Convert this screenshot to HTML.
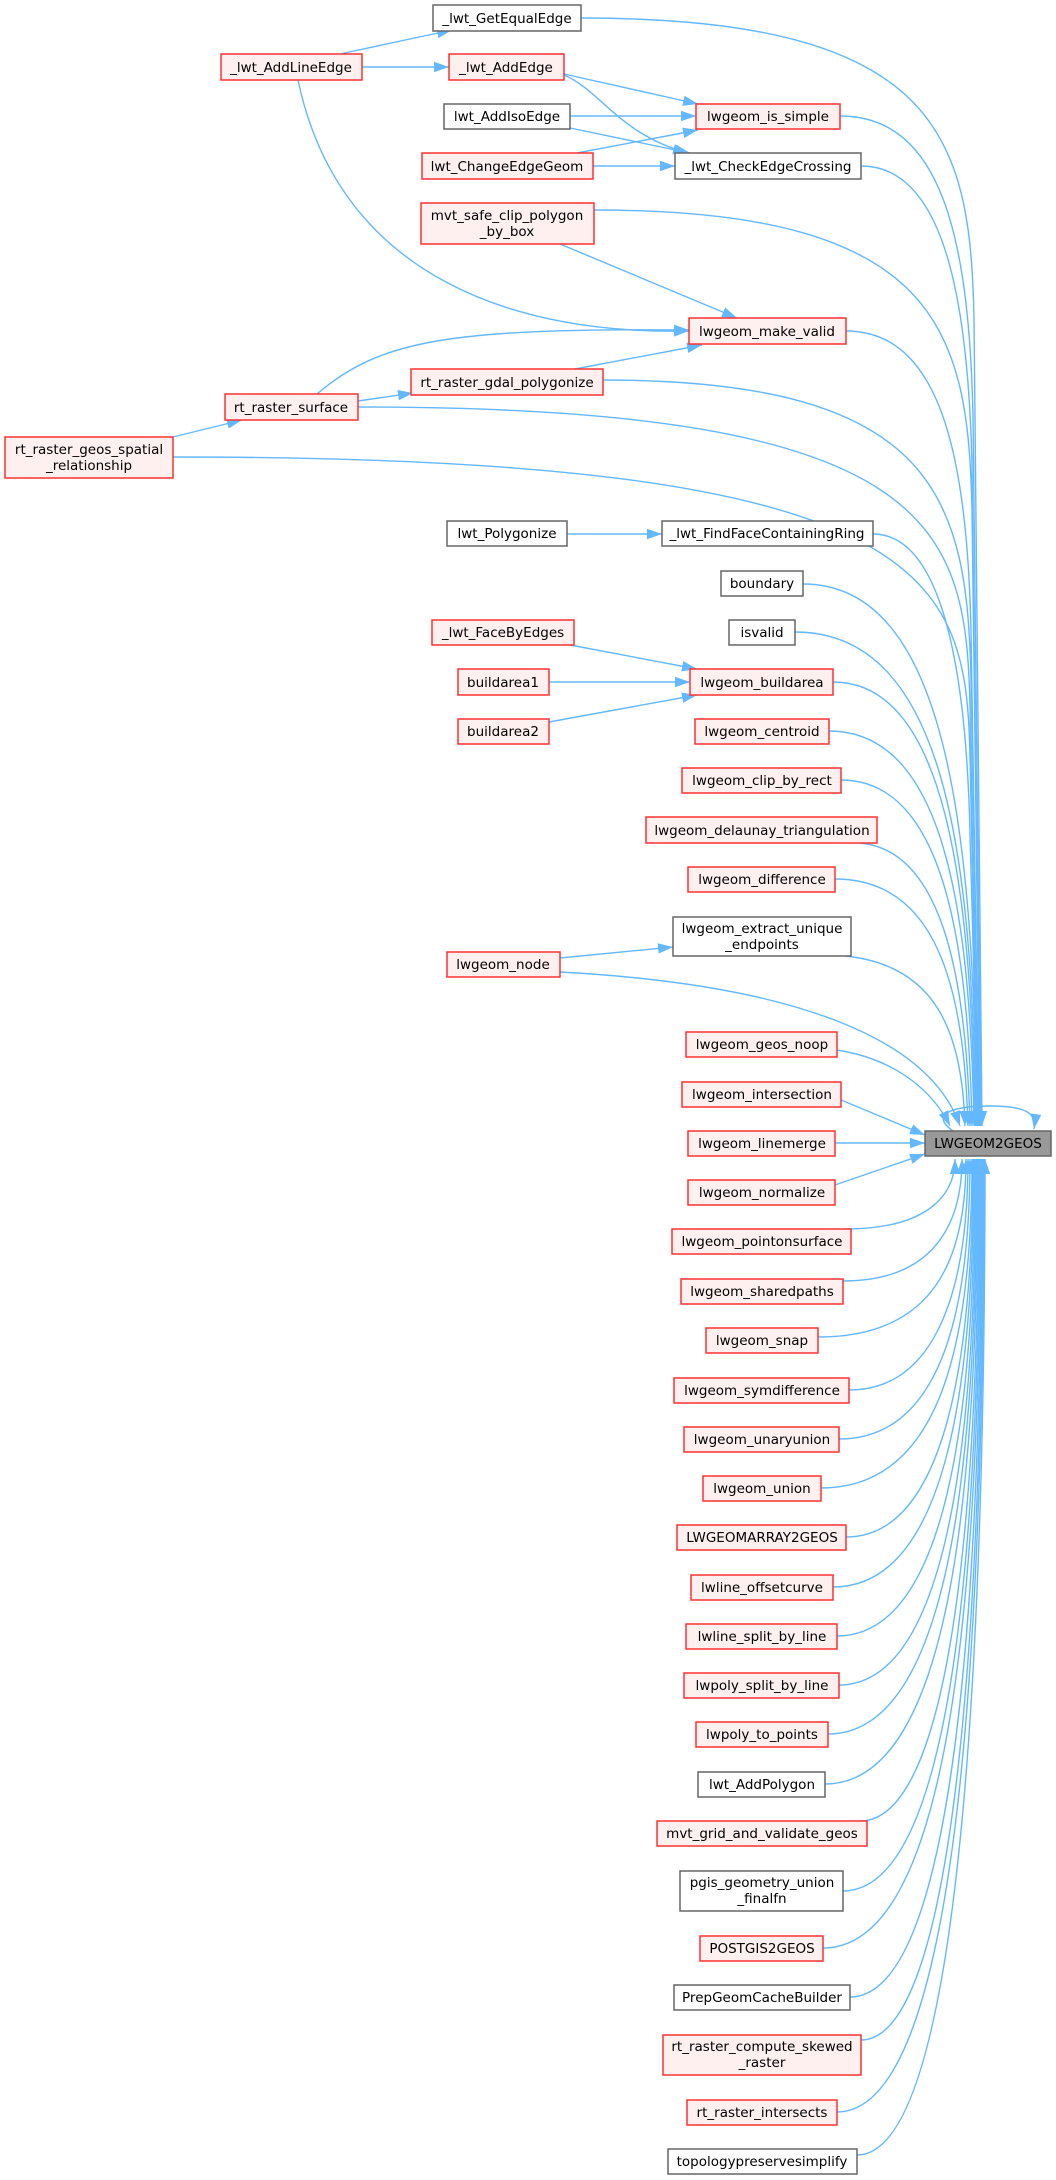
<!DOCTYPE html>
<html><head><meta charset="utf-8"><style>
html,body{margin:0;padding:0;background:#fff}
svg{display:block}
text{font-family:"DejaVu Sans","Liberation Sans",sans-serif;font-size:13.5px;fill:#000;text-anchor:middle}
.r{fill:#fff0f0;stroke:#ff3030;stroke-width:1.5}
.g{fill:#fff;stroke:#666;stroke-width:1.5}
.m{fill:#999;stroke:#666;stroke-width:1.5}
.e{fill:none;stroke:#63b8ff;stroke-width:1.4}
</style></head><body>
<svg width="1056" height="2180" viewBox="0 0 1056 2180" xmlns="http://www.w3.org/2000/svg">
<defs>
<marker id="a" markerUnits="userSpaceOnUse" markerWidth="15" markerHeight="11" viewBox="0 0 10 7" refX="10" refY="3.5" orient="auto"><path d="M0,0 L10,3.5 L0,7 z" fill="#63b8ff"/></marker>
</defs>
<g marker-end="url(#a)" class="e">
<path class="e" d="M340,54 L452,30"/>
<path class="e" d="M362,67 L449,67"/>
<path class="e" d="M564,74 L698,104"/>
<path class="e" d="M564,75 C600,90 620,135 688,153"/>
<path class="e" d="M570,116 L696,116"/>
<path class="e" d="M570,128 L690,153"/>
<path class="e" d="M577,153 L698,130"/>
<path class="e" d="M593,166 L675,166"/>
<path class="e" d="M298,80 C340,280 520,335 689,331"/>
<path class="e" d="M560,244 L737,318"/>
<path class="e" d="M575,369 L702,345"/>
<path class="e" d="M317,394 C380,340 450,328 689,330"/>
<path class="e" d="M358,401 L413,393"/>
<path class="e" d="M173,437 L242,420"/>
<path class="e" d="M567,534 L662,534"/>
<path class="e" d="M570,645 L697,669"/>
<path class="e" d="M549,682 L690,682"/>
<path class="e" d="M549,722 L697,695"/>
<path class="e" d="M560,958 L673,947"/>

<path class="e" d="M581,18 C942,18 970,138 974,318 L982,1126"/>
<path class="e" d="M840,116 C941,116 969,236 973,416 L981,1126"/>
<path class="e" d="M861,166 C940,166 968,286 972,466 L980,1126"/>
<path class="e" d="M594,210 C940,210 968,330 972,510 L980,1126"/>
<path class="e" d="M846,331 C939,331 967,451 971,631 L979,1126"/>
<path class="e" d="M603,380 C939,380 967,500 971,680 L979,1126"/>
<path class="e" d="M358,407 C938,407 966,527 970,707 L978,1126"/>
<path class="e" d="M173,457 C938,457 966,577 970,757 L978,1126"/>
<path class="e" d="M873,534 C938,534 966,654 970,834 L978,1126"/>
<path class="e" d="M803,584 C947,584 973,828 977,1126"/>
<path class="e" d="M795,632 C946,632 972,854 976,1126"/>
<path class="e" d="M833,682 C945,682 971,882 975,1126"/>
<path class="e" d="M829,731 C944,731 970,909 974,1126"/>
<path class="e" d="M841,780 C942,780 968,936 972,1126"/>
<path class="e" d="M860,843 C940,850 966,970 970,1126"/>
<path class="e" d="M835,879 C938,879 964,990 968,1126"/>
<path class="e" d="M845,956 C935,965 962,1030 965,1126"/>
<path class="e" d="M560,972 C800,985 930,1040 960,1126"/>
<path class="e" d="M837,1050 C900,1060 935,1095 950,1126"/>
<path class="e" d="M841,1100 L925,1135"/>
<path class="e" d="M835,1143 L925,1143"/>
<path class="e" d="M835,1185 L925,1154"/>

<path class="e" d="M845,1229 C925,1229 955,1197 955,1159"/>
<path class="e" d="M843,1281 C932,1281 962,1226 962,1159"/>
<path class="e" d="M818,1337 C936,1337 966,1257 966,1159"/>
<path class="e" d="M849,1390 C938,1390 968,1285 968,1159"/>
<path class="e" d="M839,1439 C940,1439 970,1313 970,1159"/>
<path class="e" d="M821,1488 C942,1488 972,1340 972,1159"/>
<path class="e" d="M846,1537 C943,1537 973,1367 973,1159"/>
<path class="e" d="M833,1587 C944,1587 974,1394 974,1159"/>
<path class="e" d="M837,1636 C945,1636 975,1422 975,1159"/>
<path class="e" d="M839,1685 C946,1685 976,1448 976,1159"/>
<path class="e" d="M828,1734 C947,1734 977,1476 977,1159"/>
<path class="e" d="M825,1784 C948,1784 978,1503 978,1159"/>
<path class="e" d="M860,1821 C949,1821 979,1525 979,1159"/>
<path class="e" d="M843,1891 C950,1891 980,1562 980,1159"/>
<path class="e" d="M823,1948 C951,1948 981,1596 981,1159"/>
<path class="e" d="M850,1997 C952,1997 982,1618 982,1159"/>
<path class="e" d="M861,2040 C953,2040 983,1643 983,1159"/>
<path class="e" d="M837,2112 C954,2112 984,1683 984,1159"/>
<path class="e" d="M857,2155 C955,2155 985,1707 985,1159"/>

<path class="e" d="M953,1131 C930,1115 950,1106 990,1106 C1030,1106 1036,1115 1034,1129"/>
</g>

<rect class="g" x="433" y="5" width="148" height="26"/><text x="507" y="23">_lwt_GetEqualEdge</text>
<rect class="r" x="221" y="54" width="141" height="26"/><text x="291" y="72">_lwt_AddLineEdge</text>
<rect class="r" x="449" y="54" width="115" height="26"/><text x="506" y="72">_lwt_AddEdge</text>
<rect class="g" x="444" y="104" width="126" height="25"/><text x="507" y="121">lwt_AddIsoEdge</text>
<rect class="r" x="696" y="104" width="144" height="25"/><text x="768" y="121">lwgeom_is_simple</text>
<rect class="r" x="422" y="153" width="171" height="26"/><text x="507" y="171">lwt_ChangeEdgeGeom</text>
<rect class="g" x="675" y="153" width="186" height="26"/><text x="768" y="171">_lwt_CheckEdgeCrossing</text>
<rect class="r" x="421" y="203" width="173" height="41"/><text x="507" y="220">mvt_safe_clip_polygon</text><text x="507" y="236">_by_box</text>
<rect class="r" x="689" y="318" width="157" height="26"/><text x="767" y="336">lwgeom_make_valid</text>
<rect class="r" x="411" y="369" width="192" height="26"/><text x="507" y="387">rt_raster_gdal_polygonize</text>
<rect class="r" x="225" y="394" width="133" height="26"/><text x="291" y="412">rt_raster_surface</text>
<rect class="r" x="5" y="437" width="168" height="41"/><text x="89" y="454">rt_raster_geos_spatial</text><text x="89" y="470">_relationship</text>
<rect class="g" x="447" y="521" width="120" height="25"/><text x="507" y="538">lwt_Polygonize</text>
<rect class="g" x="662" y="521" width="211" height="25"/><text x="767" y="538">_lwt_FindFaceContainingRing</text>
<rect class="g" x="721" y="571" width="82" height="25"/><text x="762" y="588">boundary</text>
<rect class="g" x="729" y="620" width="66" height="25"/><text x="762" y="637">isvalid</text>
<rect class="r" x="432" y="620" width="142" height="25"/><text x="503" y="637">_lwt_FaceByEdges</text>
<rect class="r" x="458" y="669" width="91" height="26"/><text x="503" y="687">buildarea1</text>
<rect class="r" x="458" y="719" width="91" height="25"/><text x="503" y="736">buildarea2</text>
<rect class="r" x="690" y="669" width="143" height="26"/><text x="762" y="687">lwgeom_buildarea</text>
<rect class="r" x="695" y="719" width="134" height="25"/><text x="762" y="736">lwgeom_centroid</text>
<rect class="r" x="682" y="768" width="159" height="25"/><text x="762" y="785">lwgeom_clip_by_rect</text>
<rect class="r" x="646" y="817" width="231" height="26"/><text x="762" y="835">lwgeom_delaunay_triangulation</text>
<rect class="r" x="688" y="867" width="147" height="25"/><text x="762" y="884">lwgeom_difference</text>
<rect class="g" x="673" y="917" width="178" height="39"/><text x="762" y="933">lwgeom_extract_unique</text><text x="762" y="949">_endpoints</text>
<rect class="r" x="447" y="952" width="113" height="25"/><text x="503" y="969">lwgeom_node</text>
<rect class="r" x="686" y="1032" width="151" height="25"/><text x="762" y="1049">lwgeom_geos_noop</text>
<rect class="r" x="682" y="1082" width="159" height="25"/><text x="762" y="1099">lwgeom_intersection</text>
<rect class="r" x="688" y="1131" width="147" height="25"/><text x="762" y="1148">lwgeom_linemerge</text>
<rect class="m" x="925" y="1131" width="126" height="25"/><text x="988" y="1148">LWGEOM2GEOS</text>
<rect class="r" x="688" y="1180" width="147" height="25"/><text x="762" y="1197">lwgeom_normalize</text>
<rect class="r" x="672" y="1229" width="179" height="25"/><text x="762" y="1246">lwgeom_pointonsurface</text>
<rect class="r" x="681" y="1279" width="162" height="25"/><text x="762" y="1296">lwgeom_sharedpaths</text>
<rect class="r" x="706" y="1328" width="112" height="25"/><text x="762" y="1345">lwgeom_snap</text>
<rect class="r" x="674" y="1378" width="175" height="25"/><text x="762" y="1395">lwgeom_symdifference</text>
<rect class="r" x="684" y="1427" width="155" height="25"/><text x="762" y="1444">lwgeom_unaryunion</text>
<rect class="r" x="703" y="1476" width="118" height="25"/><text x="762" y="1493">lwgeom_union</text>
<rect class="r" x="677" y="1525" width="169" height="25"/><text x="762" y="1542">LWGEOMARRAY2GEOS</text>
<rect class="r" x="691" y="1575" width="142" height="25"/><text x="762" y="1592">lwline_offsetcurve</text>
<rect class="r" x="686" y="1624" width="151" height="25"/><text x="762" y="1641">lwline_split_by_line</text>
<rect class="r" x="684" y="1673" width="155" height="25"/><text x="762" y="1690">lwpoly_split_by_line</text>
<rect class="r" x="696" y="1722" width="132" height="25"/><text x="762" y="1739">lwpoly_to_points</text>
<rect class="g" x="698" y="1772" width="127" height="25"/><text x="762" y="1789">lwt_AddPolygon</text>
<rect class="r" x="657" y="1821" width="210" height="25"/><text x="762" y="1838">mvt_grid_and_validate_geos</text>
<rect class="g" x="680" y="1871" width="163" height="40"/><text x="762" y="1887">pgis_geometry_union</text><text x="762" y="1903">_finalfn</text>
<rect class="r" x="700" y="1936" width="123" height="25"/><text x="762" y="1953">POSTGIS2GEOS</text>
<rect class="g" x="674" y="1985" width="176" height="25"/><text x="762" y="2002">PrepGeomCacheBuilder</text>
<rect class="r" x="663" y="2035" width="198" height="40"/><text x="762" y="2051">rt_raster_compute_skewed</text><text x="762" y="2067">_raster</text>
<rect class="r" x="687" y="2100" width="150" height="25"/><text x="762" y="2117">rt_raster_intersects</text>
<rect class="g" x="668" y="2149" width="189" height="25"/><text x="762" y="2166">topologypreservesimplify</text>
</svg>
</body></html>
